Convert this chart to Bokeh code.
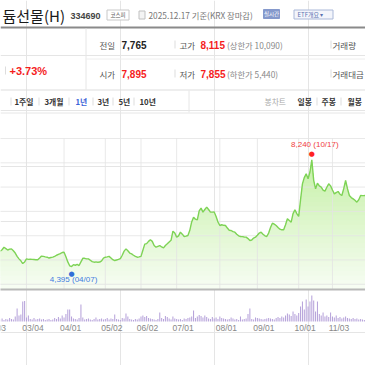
import numpy as np
from bokeh.plotting import figure
from bokeh.models import Range1d
from bokeh.core.properties import value
from bokeh.embed import file_html
from bokeh.resources import INLINE

# ---------------- data ----------------
first_day = -14  # trading-day index of the first value (03/04 = 0)
prices = [
    4950, 5000, 5090, 5040, 4990, 5020, 5030, 4960, 4880, 4760, 4670, 4600, 4500, 4560,
    4670, 4650, 4660, 4650, 4645, 4640, 4636, 4700, 4770, 4760, 4740, 4730, 4700, 4720,
    4735, 4760, 4800, 4830, 4860, 4900, 4910, 4750, 4560, 4420, 4395, 4460, 4440, 4470,
    4430, 4560, 4690, 4690, 4670, 4670, 4620, 4570, 4550, 4560, 4550, 4555, 4600, 4700,
    4730, 4740, 4760, 4700, 4640, 4610, 4630, 4650, 4680, 4800, 4950, 5030, 4960, 4880,
    4850, 4800, 4760, 4730, 4740, 4760, 4980, 5200, 5220, 5300, 5357, 5300, 5150, 5090,
    5120, 5150, 5100, 5068, 5150, 5212, 5280, 5340, 5669, 5600, 5453, 5500, 5633, 5560,
    5477, 5490, 5513, 5700, 6000, 6173, 6100, 6077, 6400, 6498, 6354, 6450, 6534, 6450,
    6354, 6354, 6360, 6200, 6000, 5873, 5900, 5880, 5873, 5780, 5700, 5693, 5650, 5633,
    5560, 5500, 5477, 5470, 5460, 5453, 5400, 5333, 5350, 5420, 5453, 5520, 5600, 5633,
    5560, 5500, 5477, 5600, 5800, 5957, 5920, 5873, 5800, 5740, 5717, 5720, 5900, 6113,
    6050, 5993, 6300, 6438, 6300, 6198, 6800, 7374, 7600, 7735, 7555, 7800, 8240, 7500,
    7194, 7398, 7300, 7254, 7150, 7110, 7250, 7374, 7300, 7150, 7014, 7060, 7098, 7000,
    6954, 7200, 7494, 7200, 6954, 6880, 6834, 6780, 6714, 6800, 6954, 6950, 6954, 6960,
]
volumes = [  # thousand shares
    8, 12, 6, 10, 8, 14, 10, 8, 20, 52, 24, 28, 80, 82,
    16, 24, 10, 8, 14, 8, 10, 12, 8, 10, 6, 8, 10, 6,
    8, 14, 10, 18, 12, 24, 16, 30, 48, 48, 20, 12, 10, 8,
    14, 68, 16, 8, 10, 12, 8, 6, 10, 16, 8, 10, 12, 8,
    10, 14, 8, 12, 10, 28, 10, 8, 6, 14, 12, 32, 20, 10,
    8, 6, 10, 8, 12, 20, 24, 18, 22, 14, 12, 10, 8, 6,
    10, 36, 14, 10, 22, 18, 12, 8, 20, 12, 10, 8, 10, 6,
    12, 10, 14, 16, 20, 44, 14, 20, 26, 22, 16, 24, 18, 12,
    10, 18, 12, 16, 10, 20, 14, 12, 10, 8, 10, 16, 12, 8,
    10, 6, 20, 8, 10, 12, 30, 52, 10, 8, 16, 14, 12, 10,
    8, 10, 12, 14, 12, 10, 8, 14, 18, 14, 20, 16, 24, 32,
    28, 22, 40, 30, 24, 34, 60, 80, 48, 88, 60, 80, 104, 84,
    40, 80, 30, 24, 36, 20, 24, 18, 36, 20, 16, 24, 14, 18,
    12, 16, 20, 14, 12, 10, 14, 10, 12, 8, 10, 8, 6, 8,
]
tick_days = [-20, 0, 20, 42, 61, 80, 103, 123, 145, 163]
tick_labels = ["02/03", "03/04", "04/01", "05/02", "06/02", "07/01",
               "08/01", "09/01", "10/01", "11/03"]
low_day, low_price, low_date = 24, 4395, "04/07"
high_day, high_price, high_date = 152, 8240, "10/17"
grid_prices = [3754, 4630, 5505, 6381, 7257, 8132, 9008]
panel_bottom, panel_top = 3566, 9008

# ---------------- figure ----------------
KR = "Noto Sans CJK KR"
LAT = "Liberation Sans"

p = figure(width=365, height=365, output_backend="svg", toolbar_location=None,
           x_range=Range1d(-13.85, 180.6), y_range=Range1d(827, 13982),
           x_axis_location=None, y_axis_location=None, min_border=0,
           outline_line_color=None, background_fill_color="white",
           border_fill_color="white")
p.extra_x_ranges = {"px": Range1d(0, 365)}
p.extra_y_ranges = {"py": Range1d(365, 0), "vol": Range1d(-176, 1284)}

PX = dict(x_range_name="px", y_range_name="py")


def txt(x, y, s, size, color, bold=False, align="left", font=KR):
    p.text(x=[x], y=[y], text=[s], text_font=value(font),
           text_font_size=f"{size}px", text_color=color,
           text_font_style="bold" if bold else "normal",
           text_align=align, text_baseline="middle", **PX)


def seg(x0, y0, x1, y1, color, w=1):
    p.segment(x0=[x0], y0=[y0], x1=[x1], y1=[y1], line_color=color,
              line_width=w, **PX)


def box(l, r, t, b, fill, line):
    p.quad(left=[l], right=[r], top=[t], bottom=[b], fill_color=fill,
           line_color=line, line_width=1, **PX)


# ---- header ----
txt(2, 15, "듐선물(H)", 15, "#1a1a1a")
txt(70, 15.5, "334690", 9, "#444", bold=True, font=LAT)
box(106.5, 128.5, 9.5, 19.5, "white", "#c8c8c8")
txt(117.5, 14.5, "코스피", 5.5, "#555", align="center")
box(138.5, 144.5, 10.5, 18.5, "#f4f4f4", "#c0c0c0")
txt(148, 14.5, "2025.12.17 기준(KRX 장마감)", 8.3, "#777")
box(263, 279, 9, 18, "#8599cc", "#8599cc")
txt(271, 13.7, "실시간", 5.5, "white", align="center")
box(293.5, 332.5, 9.5, 18.5, "#f3f5fb", "#aab8d8")
txt(297, 14, "ETF개요 ▾", 6, "#5a72b0")
seg(0, 27, 365, 27, "#8a8a8a", 2)

# ---- info table ----
seg(85.5, 28, 85.5, 89, "#e6e6e6")
seg(85, 58.5, 365, 58.5, "#eeeeee")
seg(0, 89.5, 365, 89.5, "#dddddd")
seg(5, 66, 5, 74, "#dddddd")
txt(9, 70.5, "+3.73%", 11, "#f51d1d", bold=True, font=LAT)
for yy, a_lab, a_val, a_col, b_lab, b_val, b_note, c_lab in [
        (44, "전일", "7,765", "#222222", "고가", "8,115", "(상한가 10,090)", "거래량"),
        (73, "시가", "7,895", "#f51d1d", "저가", "7,855", "(하한가 5,440)", "거래대금")]:
    txt(99, yy, a_lab, 8.5, "#555")
    txt(121, yy + 0.5, a_val, 10, a_col, bold=True, font=LAT)
    seg(174.5, yy - 4, 174.5, yy + 4, "#dddddd")
    txt(179, yy, b_lab, 8.5, "#555")
    txt(200, yy + 0.5, b_val, 10, "#f51d1d", bold=True, font=LAT)
    txt(226.5, yy, b_note, 8.3, "#888")
    seg(330.5, yy - 4, 330.5, yy + 4, "#dddddd")
    txt(332, yy, c_lab, 8.5, "#555")

# ---- period tabs ----
tab_y = 101
for xx in [10, 38, 68, 92, 112, 133]:
    seg(xx + 0.5, tab_y - 4, xx + 0.5, tab_y + 4, "#dddddd")
for xx, lab, col in [(14, "1주일", "#333"), (44, "3개월", "#333"), (75, "1년", "#3b63d8"),
                     (97, "3년", "#333"), (118, "5년", "#333"), (139, "10년", "#333")]:
    txt(xx, tab_y, lab, 7.8, col, bold=True)
seg(188.5, 90, 188.5, 112, "#e6e6e6")
txt(264, tab_y, "봉차트", 7.8, "#aaaaaa")
txt(297, tab_y, "일봉", 7.8, "#333", bold=True)
seg(316.5, tab_y - 4, 316.5, tab_y + 4, "#dddddd")
txt(321, tab_y, "주봉", 7.8, "#333", bold=True)
seg(340.5, tab_y - 4, 340.5, tab_y + 4, "#dddddd")
txt(347, tab_y, "월봉", 7.8, "#333", bold=True)
seg(0, 112.5, 365, 112.5, "#e6e6e6")

# ---- price area (vertical gradient approximated with stacked fills) ----
idx = np.arange(first_day, first_day + len(prices))
pr = np.array(prices, dtype=float)
levels = np.linspace(panel_bottom, 8400, 30)
c_bot = np.array([247, 253, 243])
c_top = np.array([196, 240, 164])
for k, lv in enumerate(levels):
    t = k / (len(levels) - 1)
    c = (c_bot + (c_top - c_bot) * t).astype(int)
    p.varea(x=idx, y1=np.minimum(pr, lv), y2=pr,
            fill_color="#%02x%02x%02x" % tuple(c))

# grid
n = len(grid_prices)
p.segment(x0=[-40] * n, y0=grid_prices, x1=[220] * n, y1=grid_prices,
          line_color="#e3e3e3", line_alpha=0.8, line_width=1)
m = len(tick_days)
p.segment(x0=tick_days, y0=[panel_bottom] * m, x1=tick_days, y1=[panel_top] * m,
          line_color="#e3e3e3", line_alpha=0.8, line_width=1)

p.line(idx, pr, line_color="#7ed356", line_width=1.4)
p.segment(x0=[-40], y0=[panel_bottom], x1=[220], y1=[panel_bottom],
          line_color="#b8b8b8", line_width=2)

# high / low markers
p.text(x=[high_day], y=[high_price], text=["●"], y_offset=-6,
       text_font=value("DejaVu Sans"), text_font_size="7px", text_color="#f22",
       text_align="center", text_baseline="middle")
p.text(x=[high_day], y=[high_price], text=[f"{high_price:,} ({high_date})"],
       x_offset=3, y_offset=-15, text_font=value(LAT), text_font_size="8px",
       text_color="#f04040", text_align="center", text_baseline="middle")
p.text(x=[low_day], y=[low_price], text=["●"], y_offset=7,
       text_font=value("DejaVu Sans"), text_font_size="7px", text_color="#2f6fd8",
       text_align="center", text_baseline="middle")
p.text(x=[low_day], y=[low_price], text=[f"{low_price:,} ({low_date})"],
       x_offset=2, y_offset=13, text_font=value(LAT), text_font_size="8px",
       text_color="#3f7be0", text_align="center", text_baseline="middle")

# ---- volume ----
p.vbar(x=idx, top=volumes, bottom=0, width=0.55, y_range_name="vol",
       fill_color="#b6a2da", line_color=None)

# date labels
p.text(x=tick_days, y=[327] * m, text=tick_labels, x_offset=6.5,
       text_font=value(LAT), text_font_size="8.5px", text_color="#888",
       text_align="center", text_baseline="middle", y_range_name="py")

open("out.html", "w").write(file_html(p, INLINE))
